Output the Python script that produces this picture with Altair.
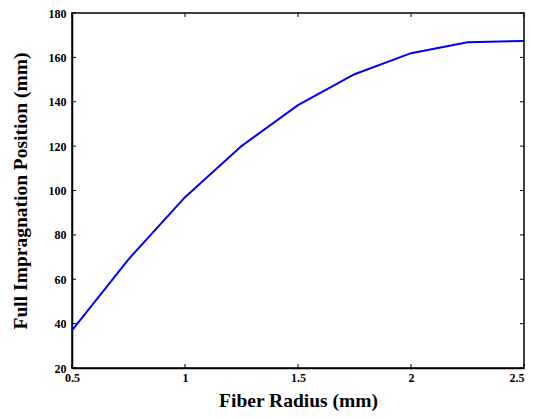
import altair as alt
import pandas as pd

radius = [0.5, 0.75, 1.0, 1.25, 1.5, 1.75, 2.0, 2.25, 2.5]
position = [37.0, 69.0, 97.0, 120.0, 138.5, 152.4, 161.9, 166.8, 167.4]
x_ticks = [0.5, 1.0, 1.5, 2.0, 2.5]
y_ticks = [20, 40, 60, 80, 100, 120, 140, 160, 180]

W, H = 452, 355
TL = 4
FONT = "Liberation Serif"

df = pd.DataFrame({"r": radius, "p": position})
xt = pd.DataFrame({"t": x_ticks})
yt = pd.DataFrame({"t": y_ticks})

xs = alt.Scale(domain=[0.5, 2.5], nice=False, zero=False)
ys = alt.Scale(domain=[20, 180], nice=False, zero=False)

line = alt.Chart(df).mark_line(color="#0000FF", strokeWidth=2).encode(
    x=alt.X("r:Q", scale=xs, title="Fiber Radius (mm)",
            axis=alt.Axis(values=x_ticks, ticks=False, labelPadding=4,
                          labelAlign=alt.ConditionalAxisLabelAlign(
                              condition={"test": "datum.value >= 2.5", "value": "right"},
                              value="center"),
                          format="~g", titlePadding=8, grid=False)),
    y=alt.Y("p:Q", scale=ys, title="Full Impragnation Position (mm)",
            axis=alt.Axis(values=y_ticks, ticks=False, labelPadding=6,
                          titlePadding=18, grid=False)),
)

tick_style = dict(color="black", strokeWidth=1)
bt = alt.Chart(xt).mark_rule(**tick_style).encode(
    x=alt.X("t:Q", scale=xs), y=alt.value(H - TL), y2=alt.value(H))
tt = alt.Chart(xt).mark_rule(**tick_style).encode(
    x=alt.X("t:Q", scale=xs), y=alt.value(0), y2=alt.value(TL))
lt = alt.Chart(yt).mark_rule(**tick_style).encode(
    y=alt.Y("t:Q", scale=ys), x=alt.value(0), x2=alt.value(TL))
rt = alt.Chart(yt).mark_rule(**tick_style).encode(
    y=alt.Y("t:Q", scale=ys), x=alt.value(W - TL), x2=alt.value(W))

chart = alt.layer(line, bt, tt, lt, rt).properties(
    width=W, height=H,
    autosize=alt.AutoSizeParams(type="none"),
    padding={"left": 64, "top": 5, "right": 1, "bottom": 43},
).configure_view(
    stroke="black", strokeWidth=1.5
).configure_axis(
    domainColor="black", domainWidth=1.5,
    labelFont=FONT, labelFontWeight="bold", labelFontSize=12, labelColor="black",
    titleFont=FONT, titleFontWeight="bold", titleFontSize=19.5, titleColor="black",
)

chart.save("out.html", embed_options={"renderer": "svg", "actions": False})
